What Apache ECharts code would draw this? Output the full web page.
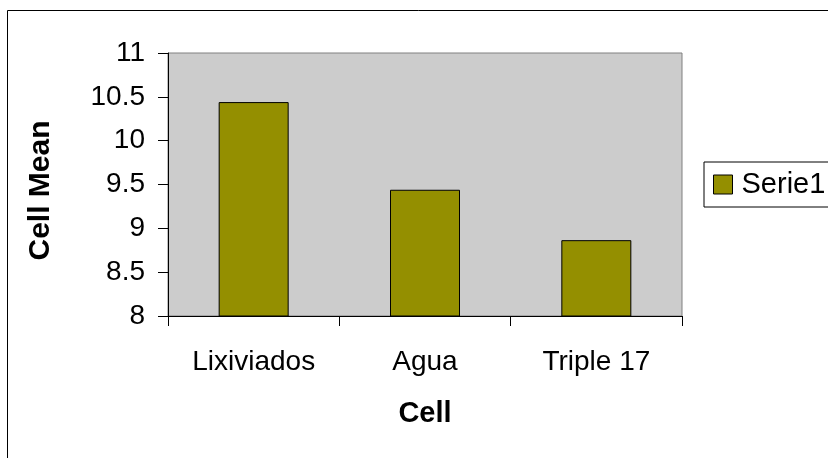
<!DOCTYPE html>
<html>
<head>
<meta charset="utf-8">
<script src="https://cdn.jsdelivr.net/npm/echarts@6/dist/echarts.min.js"></script>
<style>
html,body{margin:0;padding:0;background:#fff;}
#c{width:828px;height:458px;}
</style>
</head>
<body>
<div id="c"></div>
<script>
const categories = ['Lixiviados', 'Agua', 'Triple 17'];
const serie1 = [10.44, 9.44, 8.865];
const yTicks = { min: 8, max: 11, interval: 0.5 };
const seriesName = 'Serie1';
const xTitle = 'Cell';
const yTitle = 'Cell Mean';

const FONT = '"Liberation Sans", Arial, sans-serif';
const chart = echarts.init(document.getElementById('c'), null, { renderer: 'canvas' });
chart.setOption({
  backgroundColor: '#ffffff',
  animation: false,
  textStyle: { fontFamily: FONT },
  graphic: [{
    type: 'rect',
    shape: { x: 7.5, y: 10.5, width: 900, height: 500 },
    style: { fill: 'none', stroke: '#000', lineWidth: 1 },
    z: -10
  }],
  grid: {
    left: 168, top: 53, right: 146, bottom: 142,
    show: true, backgroundColor: '#CCCCCC', borderColor: '#808080', borderWidth: 1
  },
  legend: {
    data: [seriesName],
    left: 704, top: 162,
    orient: 'vertical',
    icon: 'rect',
    padding: [8, 20, 8, 9],
    itemWidth: 19, itemHeight: 19, itemGap: 9,
    borderColor: '#000', borderWidth: 1,
    backgroundColor: '#fff',
    textStyle: { fontSize: 29, color: '#000', fontFamily: FONT, lineHeight: 29, padding: [0, 0, 0, 4] },
    itemStyle: { borderColor: '#000', borderWidth: 1 }
  },
  xAxis: {
    type: 'category',
    data: categories,
    name: xTitle,
    nameLocation: 'middle',
    nameGap: 83,
    nameTextStyle: { fontSize: 29, fontWeight: 'bold', color: '#000', fontFamily: FONT },
    axisLine: { show: true, lineStyle: { color: '#000', width: 1 } },
    axisTick: { show: true, length: 10, alignWithLabel: false, lineStyle: { color: '#000' } },
    axisLabel: { fontSize: 28, color: '#000', margin: 32, fontFamily: FONT },
    splitLine: { show: false }
  },
  yAxis: {
    type: 'value',
    min: yTicks.min, max: yTicks.max, interval: yTicks.interval,
    name: yTitle,
    nameLocation: 'middle',
    nameRotate: 90,
    nameGap: 112,
    nameTextStyle: { fontSize: 30, fontWeight: 'bold', color: '#000', fontFamily: FONT, padding: [0, 12, 0, 0] },
    axisLine: { show: true, lineStyle: { color: '#000', width: 1 } },
    axisTick: { show: true, length: 10, lineStyle: { color: '#000' } },
    axisLabel: { fontSize: 28, color: '#000', margin: 23, fontFamily: FONT },
    splitLine: { show: false }
  },
  series: [{
    name: seriesName,
    type: 'bar',
    data: serie1,
    barWidth: 70,
    itemStyle: { color: '#948F00', borderColor: '#000', borderWidth: 1 }
  }]
});
</script>
</body>
</html>
